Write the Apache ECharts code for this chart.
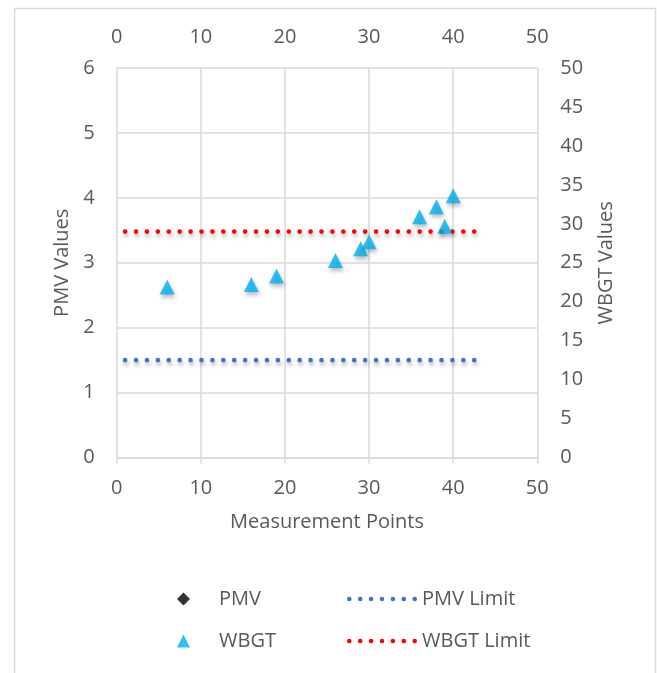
<!DOCTYPE html>
<html>
<head>
<meta charset="utf-8">
<script src="https://cdn.jsdelivr.net/npm/echarts@6/dist/echarts.min.js"></script>
<style>
html,body{margin:0;padding:0;background:#fff;}
#chart{width:657px;height:673px;}
</style>
</head>
<body>
<div id="chart"></div>
<script>
// Data
var xTicks = [0, 10, 20, 30, 40, 50];
var pmvData = []; // PMV markers are not visible in the plot
var wbgtX = [6, 16, 19, 26, 29, 30, 36, 38, 39, 40];
var wbgtY = [21.9, 22.2, 23.3, 25.3, 26.8, 27.7, 30.9, 32.2, 29.7, 33.6];
var pmvLimitX = [1, 43];
var pmvLimitY = [1.5, 1.5];
var wbgtLimitX = [1, 43];
var wbgtLimitY = [29, 29];

var FONT = 'Open Sans';
var TXT = '#595959';
var GRID = '#d9d9d9';
var FS = 20;

function pairs(xs, ys) { return xs.map(function (x, i) { return [x, ys[i]]; }); }

// dotted legend icon: 7 round dots
function dotsPath() {
  var r = 2.3, step = 10.9, p = '';
  for (var k = 0; k < 7; k++) {
    var cx = r + k * step;
    p += 'M' + (cx - r) + ',' + r + 'a' + r + ',' + r + ' 0 1,0 ' + (2 * r) + ',0a' + r + ',' + r + ' 0 1,0 ' + (-2 * r) + ',0Z';
  }
  return 'path://' + p;
}
var DOTS = dotsPath();

var shadow = { shadowBlur: 4, shadowColor: 'rgba(0,0,0,0.35)', shadowOffsetX: 1, shadowOffsetY: 3 };

function legendItem(name, left, top, icon, w, h, pad) {
  return {
    data: [name], left: left, top: top, icon: icon,
    itemWidth: w, itemHeight: h, selectedMode: false,
    itemStyle: { shadowBlur: 0, shadowOffsetX: 0, shadowOffsetY: 0, borderWidth: 0 },
    lineStyle: { shadowBlur: 0 },
    textStyle: { fontFamily: FONT, fontSize: FS, color: TXT, padding: [0, 0, 0, pad] }
  };
}

var chart = echarts.init(document.getElementById('chart'), null, { renderer: 'canvas' });
chart.setOption({
  animation: false,
  backgroundColor: '#fff',
  graphic: [{
    type: 'rect', left: 12, top: 6, silent: true, z: -10,
    shape: { width: 641, height: 680 },
    style: { fill: 'none', stroke: GRID, lineWidth: 1.5 }
  }],
  grid: { left: 116.7, right: 119.7, top: 68, bottom: 215.5, containLabel: false },
  legend: [
    legendItem('PMV', 172, 584, 'diamond', 13, 13, 24),
    legendItem('PMV Limit', 342, 584, DOTS, 70, 4.6, 0),
    legendItem('WBGT', 172, 626, 'triangle', 13, 13, 24),
    legendItem('WBGT Limit', 342, 626, DOTS, 70, 4.6, 0)
  ],
  xAxis: [{
    type: 'value', position: 'bottom', min: 0, max: 50, interval: 10,
    name: 'Measurement Points', nameLocation: 'middle', nameGap: 55,
    nameTextStyle: { fontFamily: FONT, fontSize: FS, color: TXT },
    axisLine: { show: true, onZero: false, lineStyle: { color: GRID, width: 1.5 } },
    axisTick: { show: true, length: 6, lineStyle: { color: GRID, width: 1.5 } },
    axisLabel: { fontFamily: FONT, fontSize: FS, color: TXT, margin: 21,
      formatter: function (v) { return xTicks.indexOf(v) >= 0 ? String(v) : ''; } },
    splitLine: { show: true, lineStyle: { color: GRID, width: 1.5 } }
  }, {
    type: 'value', position: 'top', min: 0, max: 50, interval: 10,
    axisLine: { show: false }, axisTick: { show: false },
    axisLabel: { fontFamily: FONT, fontSize: FS, color: TXT, margin: 21 },
    splitLine: { show: false }
  }],
  yAxis: [{
    type: 'value', position: 'left', min: 0, max: 6, interval: 1,
    name: 'PMV Values', nameLocation: 'middle', nameGap: 43, nameRotate: 90,
    nameTextStyle: { fontFamily: FONT, fontSize: FS, color: TXT },
    axisLine: { show: false }, axisTick: { show: false },
    axisLabel: { fontFamily: FONT, fontSize: FS, color: TXT, margin: 22 },
    splitLine: { show: true, lineStyle: { color: GRID, width: 1.5 } }
  }, {
    type: 'value', position: 'right', min: 0, max: 50, interval: 5,
    name: 'WBGT Values', nameLocation: 'middle', nameGap: 59, nameRotate: 90,
    nameTextStyle: { fontFamily: FONT, fontSize: FS, color: TXT },
    axisLine: { show: false }, axisTick: { show: false },
    axisLabel: { fontFamily: FONT, fontSize: FS, color: TXT, margin: 23 },
    splitLine: { show: false }
  }],
  series: [{
    name: 'PMV', type: 'scatter', xAxisIndex: 0, yAxisIndex: 0,
    symbol: 'diamond', symbolSize: 13, data: pmvData,
    itemStyle: Object.assign({ color: '#000' }, shadow)
  }, {
    name: 'PMV Limit', type: 'line', xAxisIndex: 0, yAxisIndex: 0,
    data: pairs(pmvLimitX, pmvLimitY), showSymbol: false, symbol: 'none',
    color: '#4472C4', itemStyle: { color: '#4472C4' },
    lineStyle: Object.assign({ color: '#4472C4', width: 4.6, type: [0.01, 10.9], cap: 'round' }, shadow)
  }, {
    name: 'WBGT', type: 'scatter', xAxisIndex: 0, yAxisIndex: 1,
    symbol: 'triangle', symbolSize: [15, 15], data: pairs(wbgtX, wbgtY),
    itemStyle: Object.assign({ color: '#00B0F0' }, shadow), z: 5
  }, {
    name: 'WBGT Limit', type: 'line', xAxisIndex: 0, yAxisIndex: 1,
    data: pairs(wbgtLimitX, wbgtLimitY), showSymbol: false, symbol: 'none',
    color: '#FF0000', itemStyle: { color: '#FF0000' },
    lineStyle: Object.assign({ color: '#FF0000', width: 4.6, type: [0.01, 10.9], cap: 'round' }, shadow)
  }]
});
</script>
</body>
</html>
